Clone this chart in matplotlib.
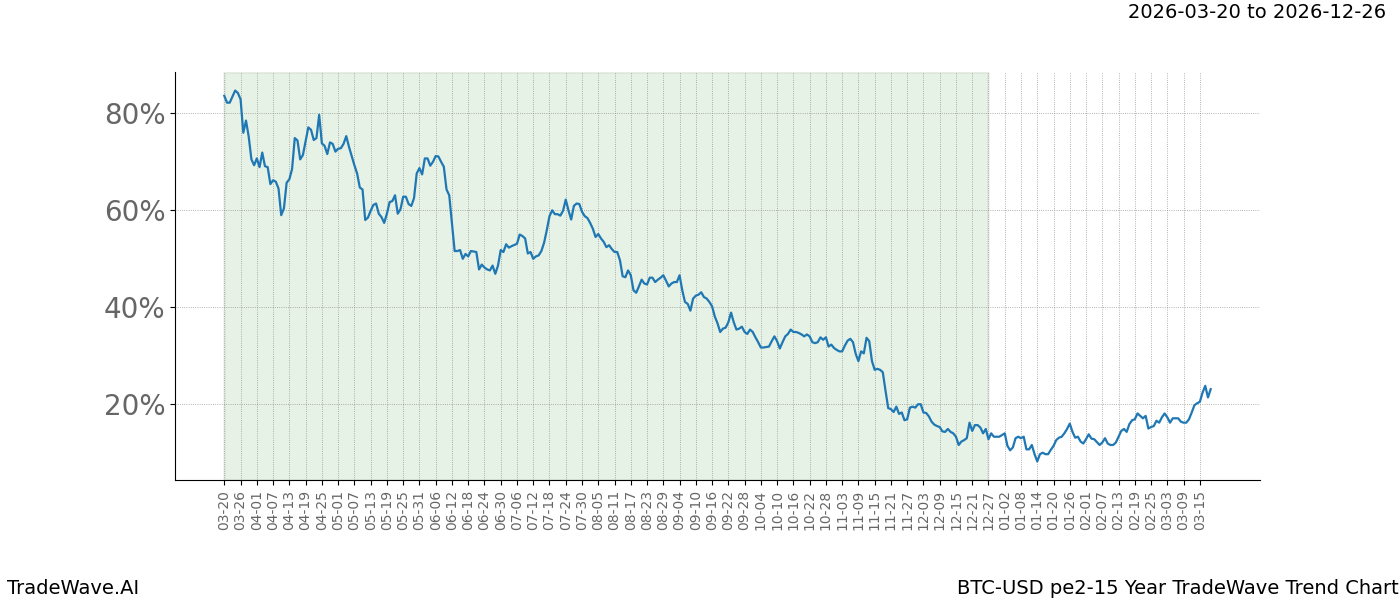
import numpy as np
import matplotlib
matplotlib.use("Agg")
import matplotlib.pyplot as plt
import matplotlib.dates as mdates
import pandas as pd

start_date = "2026-03-20"
shade_end_date = "2026-12-27"
title_text = "2026-03-20 to 2026-12-26"
footer_left = "TradeWave.AI"
footer_right = "BTC-USD pe2-15 Year TradeWave Trend Chart"

# day offsets from start_date and values (%)
day_offsets = [
    0, 1, 2, 4, 5, 6, 7, 8, 9, 10, 11, 12, 13, 14, 15, 16, 17, 18, 19, 20,
    21, 22, 23, 24, 25, 26, 27, 28, 29, 30, 31, 32, 33, 34, 35, 36, 37, 38, 39, 40,
    41, 42, 43, 44, 45, 46, 47, 48, 49, 50, 51, 52, 53, 54, 55, 56, 57, 58, 59, 60,
    61, 62, 63, 64, 65, 66, 67, 68, 69, 70, 71, 72, 73, 74, 75, 76, 77, 78, 79, 80,
    81, 82, 83, 84, 85, 86, 87, 88, 89, 90, 91, 93, 94, 95, 96, 97, 98, 99, 100,
    101, 102, 103, 104, 105, 106, 108, 109, 110, 111, 112, 113, 114, 115, 116, 117, 118, 119, 120,
    121, 122, 123, 124, 125, 126, 127, 128, 129, 130, 131, 132, 133, 134, 135, 136, 137, 138, 139, 140,
    141, 142, 143, 144, 145, 146, 147, 148, 149, 150, 151, 152, 153, 154, 155, 156, 157, 158, 159, 160,
    161, 162, 163, 164, 165, 166, 167, 168, 169, 170, 171, 172, 173, 174, 175, 176, 177, 178, 179, 180,
    181, 182, 183, 184, 185, 186, 187, 188, 189, 190, 191, 192, 193, 194, 195, 196, 197, 198, 199,
    201, 202, 203, 204, 205, 206, 207, 208, 209, 210, 211, 212, 213, 214, 215, 216, 217, 218, 219, 220,
    221, 222, 223, 224, 225, 226, 227, 228, 229, 230, 231, 232, 233, 234, 235, 236, 237, 238, 239, 240,
    241, 242, 243, 244, 245, 246, 247, 248, 249, 250, 251, 252, 253, 254, 255, 256, 257, 258, 259, 260,
    261, 262, 263, 264, 265, 266, 267, 268, 269, 270, 271, 272, 273, 274, 275, 276, 277, 278, 279, 280,
    281, 282, 283, 284, 285, 286, 288, 289, 290, 291, 292, 293, 294, 295, 296, 297, 298, 299, 300,
    301, 302, 303, 304, 305, 306, 307, 308, 309, 310, 311, 312, 313, 314, 315, 316, 317, 318, 319, 320,
    321, 322, 323, 324, 325, 326, 327, 328, 329, 330, 331, 332, 333, 334, 335, 336, 337, 338, 339, 340,
    341, 342, 343, 344, 345, 346, 347, 348, 349, 350, 351, 352, 353, 354, 355, 356, 357, 358, 359, 360,
    361, 362, 363, 364,
]
values = [
    83.5, 82.1, 82.1, 84.6, 84.1, 82.8, 75.9, 78.4, 75.1, 70.4, 69.2, 70.6, 68.8, 71.8, 69.0, 68.8, 65.3, 66.1, 65.8, 64.4,
    58.9, 60.3, 65.6, 66.3, 68.4, 74.8, 74.3, 70.4, 71.3, 74.1, 77.0, 76.5, 74.4, 74.8, 79.6, 73.7, 73.2, 71.5, 73.9, 73.6,
    72.0, 72.6, 72.7, 73.6, 75.2, 73.0, 71.1, 69.2, 67.5, 64.6, 64.2, 57.9, 58.4, 59.8, 61.0, 61.3, 59.2, 58.5, 57.3, 59.2,
    61.6, 61.8, 63.0, 59.2, 60.1, 62.7, 62.7, 61.2, 60.8, 62.4, 67.5, 68.6, 67.3, 70.6, 70.6, 69.1, 69.9, 71.1, 71.0, 69.9,
    68.9, 64.2, 63.0, 57.2, 51.5, 51.5, 51.7, 49.9, 50.9, 50.4, 51.5, 51.3, 47.7, 48.7, 48.1, 47.7, 47.5, 48.5, 46.8,
    48.5, 51.7, 51.3, 52.9, 52.2, 52.5, 53.0, 54.9, 54.6, 54.1, 51.0, 51.3, 49.9, 50.4, 50.6, 51.5, 53.2, 55.8, 58.7,
    59.9, 59.1, 59.1, 58.8, 59.8, 62.1, 59.9, 58.0, 60.8, 61.3, 61.2, 59.6, 58.7, 58.3, 57.3, 56.1, 54.4, 55.0, 54.1, 53.4,
    52.3, 52.7, 51.9, 51.3, 51.3, 49.6, 46.3, 46.1, 47.5, 46.5, 43.4, 42.9, 44.2, 45.6, 44.8, 44.6, 46.0, 46.0, 45.1, 45.6,
    46.0, 46.5, 45.4, 44.2, 44.8, 45.1, 45.1, 46.5, 43.4, 41.0, 40.6, 39.2, 41.7, 42.3, 42.5, 43.0, 42.0, 41.7, 41.0, 40.1,
    38.0, 36.6, 34.8, 35.5, 35.7, 36.8, 38.8, 36.8, 35.3, 35.5, 35.9, 34.8, 34.4, 35.3, 34.8, 33.7, 32.7, 31.6, 31.6,
    31.8, 32.9, 33.9, 32.9, 31.4, 32.7, 33.9, 34.4, 35.3, 34.8, 34.8, 34.6, 34.3, 33.9, 34.3, 33.9, 32.7, 32.5, 32.7, 33.7,
    33.2, 33.7, 31.8, 32.2, 31.5, 31.1, 30.8, 30.8, 32.0, 33.0, 33.4, 32.7, 30.3, 28.8, 30.8, 30.4, 33.6, 32.9, 28.8, 27.0,
    27.2, 27.0, 26.5, 22.7, 19.1, 18.9, 18.3, 19.4, 17.9, 18.2, 16.6, 16.8, 19.2, 19.4, 19.2, 19.9, 19.9, 18.2, 18.1, 17.4,
    16.3, 15.7, 15.4, 15.2, 14.3, 14.2, 14.8, 14.2, 13.9, 13.2, 11.5, 12.2, 12.5, 12.9, 16.1, 14.4, 15.6, 15.6, 15.1, 13.9,
    14.8, 12.7, 13.9, 13.2, 13.2, 13.2, 13.9, 11.3, 10.4, 11.0, 12.9, 13.2, 12.9, 13.2, 10.6, 10.6, 11.5, 9.6, 8.1,
    9.6, 9.9, 9.6, 9.6, 10.5, 11.3, 12.5, 13.0, 13.2, 13.9, 14.8, 15.9, 14.2, 13.0, 13.2, 12.2, 11.8, 12.7, 13.7, 12.8,
    12.7, 12.1, 11.5, 12.0, 12.9, 11.8, 11.5, 11.5, 12.0, 13.2, 14.4, 14.8, 14.2, 15.8, 16.6, 16.8, 18.0, 17.5, 17.0, 17.5,
    14.9, 15.2, 15.4, 16.5, 16.1, 17.2, 18.0, 17.2, 16.1, 17.0, 17.0, 17.0, 16.3, 16.1, 16.1, 16.8, 18.2, 19.7, 20.1, 20.4,
    22.3, 23.7, 21.3, 23.0,
]
y_ticks = [20, 40, 60, 80]
tick_step_days = 6
last_tick_date = "2027-03-15"

dates = pd.Timestamp(start_date) + pd.to_timedelta(day_offsets, unit="D")

fig = plt.figure(figsize=(14, 6), dpi=100)
ax = fig.add_axes([0.125, 0.2, 0.775, 0.68])

ax.axvspan(pd.Timestamp(start_date), pd.Timestamp(shade_end_date),
           facecolor="green", edgecolor="gray", linewidth=2, alpha=0.1, zorder=0)
ax.plot(dates, values, color="#1f77b4", linewidth=1.6, zorder=3)

ticks = pd.date_range(start_date, last_tick_date, freq=f"{tick_step_days}D")
ax.set_xticks(ticks)
ax.xaxis.set_major_formatter(mdates.DateFormatter("%m-%d"))
ax.set_yticks(y_ticks)
ax.set_yticklabels([f"{v}%" for v in y_ticks])

ax.tick_params(axis="x", labelrotation=90, labelsize=10, labelcolor="#666666")
ax.tick_params(axis="y", labelsize=20, labelcolor="#666666")
ax.grid(True, linestyle=":", color="gray", linewidth=0.6, alpha=0.8)
ax.set_axisbelow(False)
for s in ["top", "right"]:
    ax.spines[s].set_visible(False)
ax.margins(x=0.05, y=0.05)

fig.text(0.99, 0.98, title_text, ha="right", va="center", fontsize=14)
fig.text(0.005, 0.02, footer_left, ha="left", va="center", fontsize=14)
fig.text(0.999, 0.02, footer_right, ha="right", va="center", fontsize=14)

fig.savefig("out.png", dpi=100)
